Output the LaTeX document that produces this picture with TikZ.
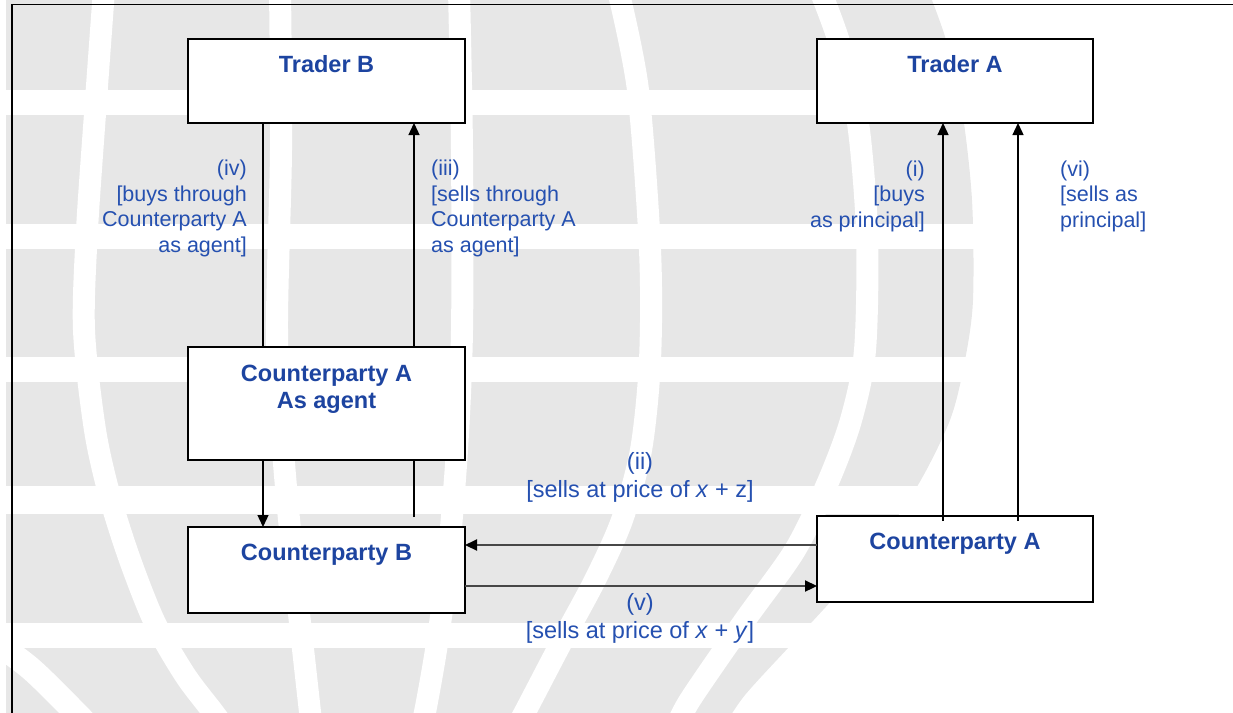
\documentclass[tikz,border=0pt]{standalone}
\usepackage{fontspec}
\setmainfont{Liberation Sans}
\usetikzlibrary{arrows.meta,calc}
\definecolor{ttl}{HTML}{1D44A0}
\definecolor{lbl}{HTML}{2550B0}
\definecolor{globe}{HTML}{E7E7E7}
\begin{document}
\begin{tikzpicture}[x=1pt,y=-1pt,
  band/.style={draw=white,line width=22pt},
  lat/.style={draw=white,line width=25pt},
  frame/.style={draw=black,line width=1.5pt},
  box/.style={draw=black,line width=1.4pt,fill=white,minimum width=277pt,inner sep=0pt,outer sep=0pt},
  title/.style={font=\fontsize{23.5}{27}\selectfont\bfseries,text=ttl,align=center,inner sep=0pt},
  side/.style={font=\fontsize{21.5}{25.5}\selectfont,text=lbl,inner sep=0pt},
  flow/.style={font=\fontsize{23.5}{28}\selectfont,text=lbl,align=center,inner sep=0pt},
  vline/.style={draw=black,line width=1.3pt},
  hline/.style={draw=black!72,line width=2.2pt},
  tip/.style={-{Triangle[length=12pt,width=11pt,color=black]}}
]
\useasboundingbox (0,0) rectangle (1233,712);
\clip (0,0) rectangle (1233,712);
% watermark globe
\fill[globe] plot[smooth] coordinates {(928,-10) (946,40) (962,110) (972,200) (973,300) (965,360) (950,420) (915,490) (858,570) (800,635) (745,695) (722,730)} -- (6,730) -- (6,-10) -- cycle;
\draw[lat] (0,102.5) -- (1000,102.5);
\draw[lat] (0,236.5) -- (1000,236.5);
\draw[lat] (0,369.5) -- (1000,369.5);
\draw[lat,line width=28pt] (0,499.5) -- (1000,499.5);
\draw[lat] (0,635) -- (1000,635);
\draw[band] plot[smooth] coordinates {(104,-10) (96,100) (87,230) (84,330) (95,430) (110,497) (130,560) (155,623) (185,675) (213,712) (230,735)};
\draw[band] plot[smooth] coordinates {(280,-10) (281,150) (277,330) (283,450) (293,560) (302,640) (310,712) (312,730)};
\draw[band] plot[smooth] coordinates {(459,-10) (462,150) (462,330) (457,450) (447,570) (436,650) (425,712) (420,730)};
\draw[band] plot[smooth] coordinates {(618,-10) (638,90) (650,250) (650,360) (641,450) (622,520) (595,580) (560,645) (525,712) (515,730)};
\draw[band] plot[smooth] coordinates {(820,-10) (840,45) (858,123) (867,233) (865,350) (851,420) (828,482) (795,550) (745,620) (690,700) (675,730)};
\draw[band,line width=24pt] plot[smooth] coordinates {(-15,635) (30,668) (75,712) (90,728)};
% frame
\draw[frame] (11.8,730) -- (11.8,4.7) -- (1250,4.7);
% boxes
\node[box,minimum height=84pt]  (traderB) at (326.5,81) {};
\node[box,minimum height=113pt] (agent)   at (326.5,403.5) {};
\node[box,minimum height=86pt]  (cpB)     at (326.5,570) {};
\node[box,minimum width=276pt,minimum height=84pt] (traderA) at (955,81) {};
\node[box,minimum width=276pt,minimum height=86pt] (cpA)     at (955,559) {};
% titles
\node[title,anchor=base] (tB) at (326.5,72.4) {Trader B};
\node[title,anchor=base] (tA) at (955,72.4) {Trader A};
\node[title] (tAg) at (326.5,389) {Counterparty A\\As agent};
\node[title,anchor=base] (tCB) at (326.5,560.4) {Counterparty B};
\node[title,anchor=base] (tCA) at (955,549.4) {Counterparty A};
% x positions of connectors
\coordinate (xiv) at (263,0);
\coordinate (xiii) at (414,0);
\coordinate (xi) at (943,0);
\coordinate (xvi) at (1018,0);
\coordinate (yii) at (0,545);
\coordinate (yv) at (0,586);
% connectors
\draw[vline] (traderB.south -| xiv) -- (agent.north -| xiv);
\draw[vline,tip] (agent.south -| xiv) -- (cpB.north -| xiv);
\draw[vline,tip] (agent.north -| xiii) -- (traderB.south -| xiii);
\draw[vline] ([yshift=10pt]cpB.north -| xiii) -- (agent.south -| xiii);
\draw[vline,tip] ([yshift=-5pt]cpA.north -| xi) -- (traderA.south -| xi);
\draw[vline,tip] ([yshift=-5pt]cpA.north -| xvi) -- (traderA.south -| xvi);
\draw[hline,tip] (cpA.west |- yii) -- (cpB.east |- yii);
\draw[hline,tip] (cpB.east |- yv) -- (cpA.west |- yv);
% labels
\node[side,align=right,anchor=east] (liv) at (247,208.3) {(iv)\\{[}buys through\\Counterparty A\\as agent{]}};
\node[side,align=left,anchor=west] (liii) at (431,208.3) {(iii)\\{[}sells through\\Counterparty A\\as agent{]}};
\node[side,align=right,anchor=east] (li) at (925,196) {(i)\\{[}buys\\as principal{]}};
\node[side,align=left,anchor=west] (lvi) at (1060,196) {(vi)\\{[}sells as\\principal{]}};
\node[flow] (lii) at (640,477.7) {(ii)\\{[}sells at price of \textit{x} + z{]}};
\node[flow] (lv) at (640,618) {(v)\\{[}sells at price of \textit{x} + \textit{y}{]}};
\end{tikzpicture}
\end{document}
